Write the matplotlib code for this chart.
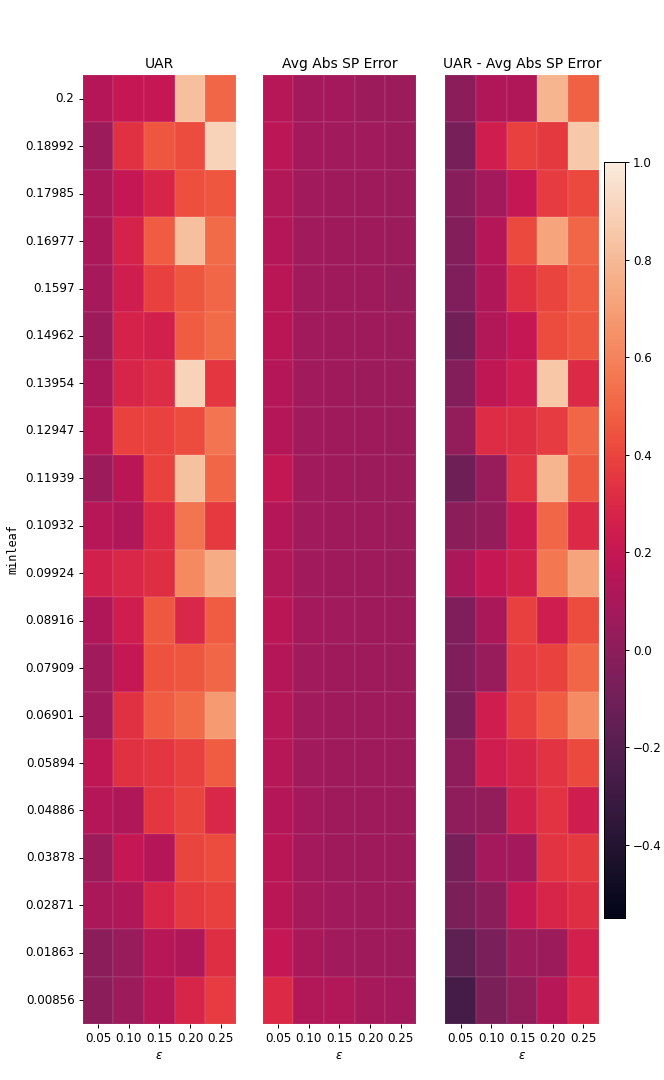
import numpy as np
import matplotlib
matplotlib.use("Agg")
import matplotlib.pyplot as plt
import seaborn as sns

eps_labels = ["0.05", "0.10", "0.15", "0.20", "0.25"]
minleaf_labels = ["0.2", "0.18992", "0.17985", "0.16977", "0.1597", "0.14962",
                  "0.13954", "0.12947", "0.11939", "0.10932", "0.09924", "0.08916",
                  "0.07909", "0.06901", "0.05894", "0.04886", "0.03878", "0.02871",
                  "0.01863", "0.00856"]

uar = [
    [0.14, 0.20, 0.20, 0.82, 0.50],
    [0.05, 0.33, 0.45, 0.42, 0.90],
    [0.10, 0.20, 0.28, 0.43, 0.45],
    [0.10, 0.27, 0.47, 0.82, 0.52],
    [0.09, 0.24, 0.38, 0.45, 0.50],
    [0.05, 0.27, 0.26, 0.47, 0.52],
    [0.10, 0.28, 0.31, 0.90, 0.35],
    [0.15, 0.39, 0.39, 0.42, 0.55],
    [0.05, 0.16, 0.39, 0.83, 0.50],
    [0.15, 0.12, 0.30, 0.55, 0.36],
    [0.26, 0.29, 0.32, 0.62, 0.75],
    [0.12, 0.24, 0.46, 0.29, 0.47],
    [0.07, 0.20, 0.44, 0.45, 0.50],
    [0.07, 0.33, 0.47, 0.52, 0.68],
    [0.18, 0.33, 0.35, 0.38, 0.47],
    [0.14, 0.12, 0.35, 0.40, 0.29],
    [0.05, 0.20, 0.14, 0.40, 0.42],
    [0.10, 0.12, 0.28, 0.36, 0.38],
    [0.00, 0.04, 0.15, 0.12, 0.32],
    [0.00, 0.05, 0.15, 0.28, 0.37],
]

err = [
    [0.15, 0.08, 0.08, 0.05, 0.05],
    [0.17, 0.08, 0.07, 0.07, 0.05],
    [0.13, 0.07, 0.06, 0.06, 0.05],
    [0.14, 0.07, 0.06, 0.06, 0.05],
    [0.16, 0.07, 0.06, 0.06, 0.04],
    [0.16, 0.07, 0.06, 0.06, 0.05],
    [0.14, 0.07, 0.06, 0.05, 0.05],
    [0.14, 0.07, 0.06, 0.06, 0.05],
    [0.19, 0.07, 0.06, 0.05, 0.05],
    [0.14, 0.07, 0.06, 0.06, 0.05],
    [0.13, 0.07, 0.06, 0.06, 0.05],
    [0.16, 0.08, 0.07, 0.06, 0.06],
    [0.14, 0.07, 0.06, 0.06, 0.05],
    [0.15, 0.07, 0.06, 0.06, 0.06],
    [0.15, 0.07, 0.06, 0.06, 0.06],
    [0.14, 0.08, 0.06, 0.06, 0.06],
    [0.16, 0.08, 0.06, 0.06, 0.06],
    [0.16, 0.09, 0.07, 0.06, 0.06],
    [0.20, 0.10, 0.07, 0.06, 0.06],
    [0.30, 0.13, 0.13, 0.09, 0.08],
]

diff = [
    [0.00, 0.12, 0.12, 0.78, 0.48],
    [-0.08, 0.24, 0.38, 0.36, 0.86],
    [-0.02, 0.08, 0.20, 0.37, 0.41],
    [-0.03, 0.14, 0.41, 0.72, 0.50],
    [-0.05, 0.12, 0.33, 0.40, 0.47],
    [-0.10, 0.13, 0.20, 0.42, 0.46],
    [-0.03, 0.18, 0.24, 0.85, 0.30],
    [0.02, 0.31, 0.32, 0.37, 0.50],
    [-0.12, 0.04, 0.34, 0.78, 0.46],
    [0.00, 0.03, 0.22, 0.50, 0.30],
    [0.10, 0.20, 0.26, 0.56, 0.72],
    [-0.05, 0.10, 0.38, 0.24, 0.42],
    [-0.05, 0.04, 0.37, 0.39, 0.50],
    [-0.07, 0.24, 0.38, 0.47, 0.63],
    [0.01, 0.24, 0.28, 0.34, 0.41],
    [0.01, 0.02, 0.26, 0.34, 0.24],
    [-0.08, 0.08, 0.08, 0.34, 0.36],
    [-0.06, 0.00, 0.20, 0.28, 0.32],
    [-0.17, -0.07, 0.05, 0.05, 0.26],
    [-0.27, -0.06, 0.02, 0.15, 0.29],
]

titles = ["UAR", "Avg Abs SP Error", "UAR - Avg Abs SP Error"]
VMIN, VMAX = -0.55, 1.0
FS = 8.6
TFS = 10

W, H = 664, 1080
fig = plt.figure(figsize=(W / 100, H / 100), dpi=100)
top, bot = 75, 1024
lefts = [82.6, 262.6, 445.2]
aw = 153.6
axes = [fig.add_axes([l / W, 1 - bot / H, aw / W, (bot - top) / H]) for l in lefts]
cax = fig.add_axes([604 / W, 1 - 918 / H, 21 / W, (918 - 162) / H])

cmap = sns.color_palette("rocket", as_cmap=True)
for i, (ax, data, t) in enumerate(zip(axes, [uar, err, diff], titles)):
    sns.heatmap(np.array(data), ax=ax, cmap=cmap, vmin=VMIN, vmax=VMAX,
                cbar=(i == 2), cbar_ax=cax if i == 2 else None,
                linewidths=0.2, linecolor=(1, 1, 1, 0.06),
                xticklabels=eps_labels,
                yticklabels=minleaf_labels if i == 0 else False)
    ax.set_title(t, fontsize=TFS, pad=5)
    ax.set_xlabel(r"$\epsilon$", fontsize=FS, labelpad=3)
    ax.tick_params(axis="both", length=2.9, width=0.7, pad=2.9)
    ax.tick_params(axis="x", rotation=0, labelsize=FS)
    if i == 0:
        ax.tick_params(axis="y", rotation=0, labelsize=FS)
        ax.set_ylabel("minleaf", family="DejaVu Sans Mono", fontsize=FS)
        ax.yaxis.set_label_coords(-0.414, 0.5)
    else:
        ax.set_ylabel("")

cax.tick_params(labelsize=FS, length=2.9, width=0.7, pad=2.9)
for s in cax.spines.values():
    s.set_visible(True)
    s.set_linewidth(0.7)

fig.savefig("out.png", dpi=100)
